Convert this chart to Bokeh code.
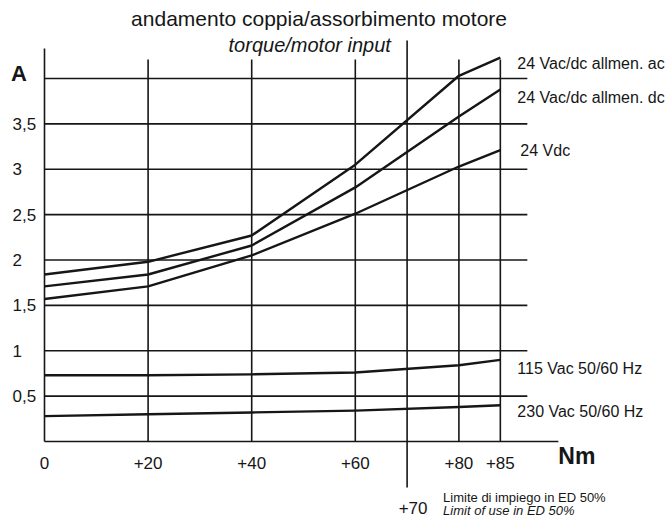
import numpy as np
from bokeh.plotting import figure
from bokeh.models import Range1d
from bokeh.core.properties import value
from bokeh.embed import file_html
from bokeh.resources import INLINE

# ---------------- data ----------------
torque_nm = [0, 20, 40, 60, 80, 85]
amp_24_vacdc_ac = [1.84, 1.98, 2.27, 3.05, 4.03, 4.23]
amp_24_vacdc_dc = [1.71, 1.84, 2.16, 2.80, 3.58, 3.88]
amp_24_vdc = [1.57, 1.71, 2.05, 2.51, 3.03, 3.21]
amp_115_vac = [0.73, 0.73, 0.74, 0.76, 0.84, 0.90]
amp_230_vac = [0.28, 0.30, 0.32, 0.34, 0.38, 0.40]

series_labels = ["24 Vac/dc allmen. ac", "24 Vac/dc allmen. dc", "24 Vdc",
                 "115 Vac 50/60 Hz", "230 Vac 50/60 Hz"]

x_ticks = [0, 20, 40, 60, 80, 85]
x_tick_labels = ["0", "+20", "+40", "+60", "+80", "+85"]
limit_nm = 70
limit_label = "+70"
y_ticks = [0.5, 1, 1.5, 2, 2.5, 3, 3.5, 4]
y_tick_labels = ["0,5", "1", "1,5", "2", "2,5", "3", "3,5"]

title = "andamento coppia/assorbimento motore"
subtitle = "torque/motor input"
limit_note_it = "Limite di impiego in ED 50%"
limit_note_en = "Limit of use in ED 50%"

# ---------------- scale of the drawing ----------------
# the original drawing stretches the last interval (80 -> 85 Nm)
def warp(nm):
    return np.interp(nm, [0, 80, 85], [0, 80, 88])

W, H = 667, 520
PX_NM = 5.18      # px per Nm
PX_A = 90.75      # px per A
ORX, ORY = 44, 79  # origin (canvas px from left / bottom)

p = figure(width=W, height=H,
           x_range=Range1d(-ORX / PX_NM, (W - ORX) / PX_NM),
           y_range=Range1d(-ORY / PX_A, (H - ORY) / PX_A),
           output_backend="svg", toolbar_location=None,
           x_axis_type=None, y_axis_type=None,
           min_border=0, min_border_left=0, min_border_right=0,
           min_border_top=0, min_border_bottom=0,
           outline_line_color=None, background_fill_color="white")

INK = "#161616"
FONT = value("Liberation Sans")
grid_right = warp(85) + 27 / PX_NM
axis_right = warp(85) + 58 / PX_NM

# horizontal grid lines
p.segment(x0=[0] * len(y_ticks), y0=y_ticks, x1=[grid_right] * len(y_ticks), y1=y_ticks,
          line_color=INK, line_width=1.6)
# bottom axis
p.segment(x0=[0], y0=[0], x1=[axis_right], y1=[0], line_color=INK, line_width=1.6)
# vertical lines
vx = list(warp(np.array(x_ticks)))
vtop = [4 + 30 / PX_A] + [4 + 19 / PX_A] * (len(x_ticks) - 1)
p.segment(x0=vx, y0=[0] * len(vx), x1=vx, y1=vtop, line_color=INK, line_width=1.6)
# limit-of-use line (+70)
p.segment(x0=[warp(limit_nm)], y0=[-46 / PX_A], x1=[warp(limit_nm)], y1=[4 + 38 / PX_A],
          line_color=INK, line_width=1.6)

# curves
xs = warp(np.array(torque_nm))
for ys in [amp_24_vacdc_ac, amp_24_vacdc_dc, amp_24_vdc, amp_115_vac, amp_230_vac]:
    p.line(xs, ys, line_color=INK, line_width=2.4, line_join="round")

# series labels at right
lab_x = warp(85) + 17 / PX_NM
p.text(x=[lab_x, lab_x, lab_x + 3 / PX_NM, lab_x, lab_x],
       y=[4.165, 3.79, 3.207, 0.80, 0.33],
       text=series_labels, text_font=FONT, text_font_size=value("16px"),
       text_color=INK, text_align="left", text_baseline="middle")

# titles
p.text(x=[53.0], y=[4.66], text=[title], text_font=FONT, text_font_size=value("21px"),
       text_color=INK, text_align="center", text_baseline="middle")
p.text(x=[51.2], y=[4.37], text=[subtitle], text_font=FONT, text_font_size=value("20px"),
       text_font_style="italic", text_color=INK, text_align="center", text_baseline="middle")

# y tick labels and unit
p.text(x=[-32 / PX_NM] * len(y_tick_labels), y=y_ticks[:len(y_tick_labels)],
       text=y_tick_labels, text_font=FONT, text_font_size=value("17px"),
       text_color=INK, text_align="left", text_baseline="middle")
p.text(x=[-25.5 / PX_NM], y=[4.05], text=["A"], text_font=FONT, text_font_size=value("22px"),
       text_font_style="bold", text_color=INK, text_align="center", text_baseline="middle")

# x tick labels and unit
p.text(x=vx, y=[-21 / PX_A] * len(vx), text=x_tick_labels, text_font=FONT,
       text_font_size=value("17px"), text_color=INK, text_align="center", text_baseline="middle")
p.text(x=[axis_right], y=[-14 / PX_A], text=["Nm"], text_font=FONT, text_font_size=value("23px"),
       text_font_style="bold", text_color=INK, text_align="left", text_baseline="middle")

# limit of use annotation
p.text(x=[warp(limit_nm) + 6 / PX_NM], y=[-66 / PX_A], text=[limit_label], text_font=FONT,
       text_font_size=value("17px"), text_color=INK, text_align="center", text_baseline="middle")
p.text(x=[warp(limit_nm) + 36 / PX_NM], y=[-56 / PX_A], text=[limit_note_it], text_font=FONT,
       text_font_size=value("13px"), text_color=INK, text_align="left", text_baseline="middle")
p.text(x=[warp(limit_nm) + 36 / PX_NM], y=[-69 / PX_A], text=[limit_note_en], text_font=FONT,
       text_font_size=value("13px"), text_font_style="italic", text_color=INK,
       text_align="left", text_baseline="middle")

open("out.html", "w").write(file_html(p, INLINE))
